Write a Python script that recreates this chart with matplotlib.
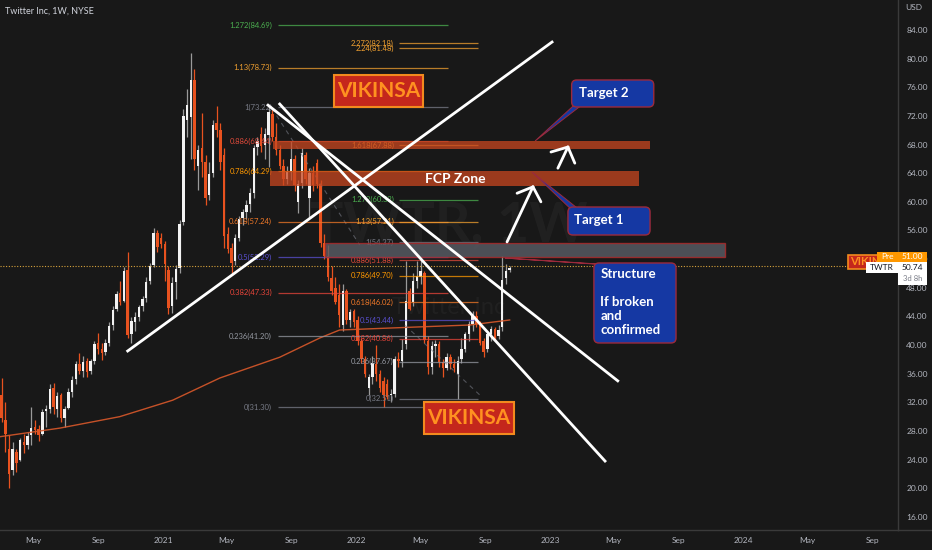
import numpy as np
import pandas as pd
import matplotlib
matplotlib.use("Agg")
import matplotlib.pyplot as plt
import matplotlib.dates as mdates
from matplotlib.patches import Rectangle, FancyBboxPatch, Polygon
from matplotlib.transforms import blended_transform_factory

plt.rcParams['font.family'] = ['Lato', 'DejaVu Sans']

# ---------------- weekly candles (TWTR, 1W) ----------------
first_week = "2020-03-02"
opens = [33.0, 29.5, 25.5, 22.5, 25.0, 24.0, 26.5, 26.0, 27.5, 28.6,
         28.3, 27.6, 30.8, 31.0, 34.0, 31.0, 33.0, 29.8, 31.2, 33.4,
         35.2, 37.3, 36.4, 37.8, 36.4, 37.8, 40.3, 39.4, 39.0, 40.3,
         42.8, 45.0, 47.2, 46.2, 50.5, 41.6, 43.2, 43.9, 45.4, 46.6,
         48.9, 51.2, 55.6, 55.0, 54.1, 50.5, 45.5, 48.8, 50.7, 57.2,
         71.5, 71.8, 77.0, 65.0, 67.5, 65.5, 61.0, 64.0, 71.0, 70.0,
         66.5, 55.5, 53.5, 51.8, 55.0, 57.7, 58.6, 59.7, 61.2, 67.6,
         69.5, 68.0, 69.4, 72.3, 69.0, 67.3, 65.0, 63.2, 64.3, 66.0,
         60.0, 62.6, 66.5, 60.5, 64.0, 65.4, 62.5, 54.3, 52.5, 49.4,
         48.0, 47.0, 42.8, 47.5, 43.5, 44.8, 43.5, 40.5, 38.0, 34.0,
         35.6, 37.4, 36.0, 35.0, 34.5, 33.0, 33.2, 38.0, 37.8, 40.2,
         47.5, 46.0, 48.9, 49.5, 50.0, 40.5, 37.0, 39.8, 40.2, 37.6,
         36.8, 38.3, 37.4, 36.0, 38.0, 39.5, 41.6, 43.0, 44.0, 43.0,
         40.5, 39.5, 41.6, 42.2, 41.3, 42.5, 49.3, 50.5]
highs = [35.4, 32.0, 27.5, 26.5, 25.5, 27.0, 27.6, 27.8, 31.4, 29.5,
         28.9, 31.1, 31.6, 34.6, 34.7, 33.5, 33.3, 31.5, 34.0, 35.7,
         37.8, 38.9, 38.5, 38.2, 38.0, 40.5, 41.7, 40.3, 40.9, 43.2,
         45.5, 47.5, 48.9, 50.9, 53.0, 43.9, 44.6, 45.6, 46.9, 49.5,
         51.5, 56.3, 56.0, 55.6, 54.6, 51.0, 49.5, 51.2, 57.5, 73.0,
         75.8, 80.8, 78.5, 68.0, 72.4, 66.5, 65.5, 71.5, 73.4, 71.0,
         67.5, 56.5, 54.2, 55.5, 58.0, 59.0, 60.2, 61.9, 68.0, 69.0,
         70.5, 70.3, 73.3, 73.0, 71.0, 68.0, 66.0, 65.0, 68.5, 66.5,
         63.0, 67.5, 67.0, 64.7, 65.0, 66.0, 63.0, 55.5, 54.0, 51.0,
         49.5, 48.5, 48.5, 47.8, 45.0, 45.0, 44.0, 41.0, 38.5, 36.0,
         38.5, 40.0, 36.5, 35.5, 35.3, 33.8, 38.5, 39.0, 40.9, 51.7,
         47.9, 50.0, 51.7, 52.3, 50.3, 41.2, 40.5, 40.7, 40.5, 38.0,
         38.9, 38.8, 38.0, 38.5, 41.0, 41.8, 43.4, 44.8, 44.8, 43.3,
         41.0, 42.0, 42.6, 42.5, 42.8, 52.4, 51.3, 51.0]
lows = [29.2, 25.0, 20.0, 21.8, 22.3, 23.8, 24.9, 25.5, 26.0, 27.6,
        26.6, 27.5, 28.5, 30.5, 30.4, 30.0, 29.2, 28.6, 31.0, 32.8,
        34.5, 36.0, 35.5, 35.6, 36.0, 37.3, 38.8, 37.9, 38.6, 39.9,
        42.1, 44.8, 45.6, 46.0, 41.0, 40.3, 42.0, 43.3, 44.8, 46.0,
        48.5, 50.9, 53.0, 53.6, 49.0, 44.4, 44.5, 46.5, 50.0, 56.7,
        69.0, 66.0, 64.5, 61.6, 63.5, 59.5, 60.3, 63.5, 69.0, 64.5,
        53.5, 52.8, 50.0, 51.2, 54.5, 56.8, 57.6, 58.6, 60.5, 66.5,
        67.0, 66.0, 64.8, 68.5, 66.5, 64.6, 62.4, 62.5, 63.0, 61.5,
        58.4, 62.0, 62.5, 57.9, 61.5, 62.0, 53.7, 52.0, 49.0, 47.0,
        45.8, 42.5, 42.0, 43.0, 42.5, 42.5, 40.0, 37.5, 35.5, 33.0,
        34.5, 35.0, 33.5, 31.3, 32.5, 32.0, 32.8, 37.0, 37.0, 39.5,
        44.9, 45.5, 48.0, 48.5, 40.3, 36.0, 36.0, 38.4, 37.0, 35.5,
        36.5, 36.7, 36.2, 32.5, 37.5, 39.0, 40.5, 41.9, 42.5, 40.0,
        38.3, 39.0, 40.6, 40.5, 40.8, 42.0, 48.5, 50.2]
closes = [29.8, 27.6, 22.0, 25.5, 23.5, 26.7, 26.0, 27.3, 28.4, 28.2,
          27.5, 30.6, 31.0, 33.9, 31.3, 32.9, 29.8, 31.0, 33.4, 35.1,
          37.4, 36.4, 37.7, 36.3, 37.8, 40.2, 39.4, 38.9, 40.3, 42.6,
          44.9, 47.1, 46.0, 50.3, 41.4, 43.4, 43.9, 45.3, 46.5, 48.8,
          51.1, 55.7, 53.7, 54.1, 51.3, 45.2, 48.6, 50.6, 56.9, 72.0,
          73.5, 77.0, 66.0, 67.2, 65.5, 60.5, 63.9, 70.8, 70.0, 65.5,
          55.2, 53.4, 51.5, 55.0, 57.6, 58.6, 59.6, 61.2, 67.5, 68.5,
          67.8, 69.5, 72.5, 69.0, 67.3, 65.0, 63.2, 64.2, 66.0, 62.3,
          62.5, 66.8, 63.2, 64.0, 62.3, 62.5, 54.2, 52.5, 49.5, 47.5,
          46.0, 44.2, 47.5, 43.5, 44.6, 43.2, 40.5, 38.0, 36.0, 35.6,
          37.5, 36.0, 34.0, 33.0, 32.8, 33.2, 38.0, 37.8, 39.3, 46.2,
          45.1, 48.9, 49.7, 50.4, 40.7, 37.0, 39.8, 40.2, 37.6, 36.8,
          38.3, 37.4, 36.8, 37.8, 39.5, 41.6, 42.9, 44.0, 43.0, 40.3,
          39.0, 41.6, 42.2, 41.0, 42.1, 49.1, 50.4, 50.74]

# 200 week moving average
ma_dates = ["2020-02-28", "2020-06-20", "2020-10-11", "2021-01-19", "2021-04-18",
            "2021-08-09", "2021-10-24", "2021-11-30", "2022-04-17", "2022-08-03",
            "2022-10-17"]
ma_values = [27.2, 28.4, 30.0, 32.3, 35.4, 38.3, 41.0, 42.1, 42.5, 42.8, 43.5]

# fib tools
fib1_ratios = ["1.272", "1.13", "1", "0.886", "0.786", "0.618", "0.5", "0.382", "0.236", "0"]
fib1_prices = [84.69, 78.73, 73.22, 68.44, 64.29, 57.24, 52.29, 47.33, 41.20, 31.30]
fib1_colors = ["#4caf50", "#f0a030", "#787b86", "#e04a3a", "#ff9800", "#f07828",
               "#5a50d0", "#e8453a", "#9598a1", "#787b86"]
fib1_span = ("2021-08-05", "2022-06-22")

fib2_ratios = ["2.272", "2.24", "1.618", "1.272", "1.13", "1", "0.886", "0.786",
               "0.618", "0.5", "0.382", "0.236", "0"]
fib2_prices = [82.18, 81.48, 67.88, 60.32, 57.21, 54.37, 51.88, 49.70, 46.02,
               43.44, 40.86, 37.67, 32.51]
fib2_colors = ["#f0a030", "#f0a030", "#f0a030", "#4caf50", "#f0a030", "#787b86",
               "#e04a3a", "#ff9800", "#f07828", "#5a50d0", "#e8453a", "#9598a1", "#787b86"]
fib2_span = ("2022-03-23", "2022-08-18")

# axis ticks
ytick_values = list(range(16, 85, 4))
xtick_dates = ["2020-05-01", "2020-09-01", "2021-01-01", "2021-05-01", "2021-09-01",
               "2022-01-01", "2022-05-01", "2022-09-01", "2023-01-01", "2023-05-01",
               "2023-09-01", "2024-01-01", "2024-05-01", "2024-09-01"]
xtick_labels = ["May", "Sep", "2021", "May", "Sep", "2022", "May", "Sep", "2023",
                "May", "Sep", "2024", "May", "Sep"]

last_price = 50.74
pre_price = 51.00

BG = "#181818"
UP = "#f2f2f2"
UP_WICK = "#9a9a9a"
DOWN = "#e8521f"
GRID_LINE = "#3a3a3a"
TXT = "#b2b5be"


def d(s):
    return mdates.date2num(pd.Timestamp(s))


fig = plt.figure(figsize=(9.32, 5.5), dpi=100, facecolor=BG)
ax = fig.add_axes([0, 20 / 550, 898 / 932, 530 / 550])
ax.set_facecolor(BG)
ax.set_xlim(d("2020-02-28"), d("2024-10-19"))
ax.set_ylim(14.17, 88.19)

# watermark
ax.text(0.5, 0.575, "TWTR, 1W", transform=ax.transAxes, ha="center", va="center",
        fontsize=40, fontweight="bold", color="white", alpha=0.035, zorder=0)
ax.text(0.5, 0.42, "Twitter Inc", transform=ax.transAxes, ha="center", va="center",
        fontsize=17, color="white", alpha=0.035, zorder=0)

# candles
weeks = pd.date_range(first_week, periods=len(closes), freq="7D")
x = mdates.date2num(weeks)
o = np.array(opens)
c = np.array(closes)
up = c >= o
body_col = np.where(up, UP, DOWN)
wick_col = np.where(up, UP_WICK, DOWN)
ax.vlines(x, lows, highs, colors=wick_col, lw=0.9, zorder=2)
ax.bar(x, np.maximum(np.abs(c - o), 0.15), bottom=np.minimum(o, c), width=4.6,
       color=body_col, linewidth=0, zorder=3)

# moving average
ax.plot([d(s) for s in ma_dates], ma_values, color="#d9582a", lw=1, alpha=0.9, zorder=4)

# last price dotted line
ax.axhline(pre_price, color="#d6a23c", lw=0.8, ls=(0, (1, 1.5)), zorder=4)

# faint dashed fib trend lines
ax.plot([d("2021-07-25"), d("2022-01-07")], [73.1, 53.97], color="#787b86",
        lw=0.8, ls=(0, (4, 4)), alpha=0.6, zorder=4)
ax.plot([d("2022-04-02"), d("2022-08-22")], [42.8, 33.0], color="#787b86",
        lw=0.8, ls=(0, (4, 4)), alpha=0.6, zorder=4)

# fib levels
for ratios, prices, cols, span in [(fib1_ratios, fib1_prices, fib1_colors, fib1_span),
                                   (fib2_ratios, fib2_prices, fib2_colors, fib2_span)]:
    x0, x1 = d(span[0]), d(span[1])
    for r, p, col in zip(ratios, prices, cols):
        ax.hlines(p, x0, x1, colors=col, lw=0.9, alpha=0.75, zorder=5)
        ax.annotate(f"{r}({p:.2f})", xy=(x0, p), xytext=(-4, 0), textcoords="offset points",
                    ha="right", va="center", fontsize=5.5, color=col, zorder=6)

# zones
ax.add_patch(Rectangle((d("2021-07-27"), 67.35), d("2023-07-09") - d("2021-07-27"), 1.1,
                       facecolor="#c8461f", alpha=0.75, lw=0, zorder=6))
ax.add_patch(Rectangle((d("2021-07-21"), 62.2), d("2023-06-18") - d("2021-07-21"), 2.1,
                       facecolor="#c8461f", alpha=0.75, lw=0, zorder=6))
ax.text(d("2022-07-06"), 63.25, "FCP Zone", ha="center", va="center", fontsize=10,
        fontweight="bold", color="white", zorder=7)
ax.add_patch(Rectangle((d("2021-11-02"), 52.3), d("2023-11-27") - d("2021-11-02"), 1.95,
                       facecolor="#5a5d66", edgecolor="#b02a2a", alpha=0.8, lw=1, zorder=6))

# trend lines
ax.plot([d("2020-10-26"), d("2023-01-05")], [39.17, 82.32], color="white", lw=2, zorder=8)
ax.plot([d("2021-07-18"), d("2023-05-09")], [73.5, 35.0], color="white", lw=2, zorder=8)
ax.plot([d("2021-08-09"), d("2023-04-15")], [73.66, 23.8], color="white", lw=2, zorder=8)

# arrows
for tail, head, w1, w2 in [
        (("2022-10-12", 54.4), ("2022-11-30", 62.1), ("2022-10-31", 61.2), ("2022-12-15", 60.0)),
        (("2023-01-16", 64.7), ("2023-02-04", 67.66), ("2023-01-03", 66.96), ("2023-02-17", 65.4))]:
    for a, b in [(tail, head), (w1, head), (w2, head)]:
        ax.plot([d(a[0]), d(b[0])], [a[1], b[1]], color="white", lw=2,
                solid_capstyle="round", zorder=8)

# callouts
BLUE = "#1538a3"
EDGE = "#9c2a3c"


def callout(x0, x1, y0, y1, text, tx, ty, base, tip):
    ax.add_patch(Polygon([(d(base[0]), base[2]), (d(base[1]), base[2]), (d(tip[0]), tip[1])],
                         closed=True, facecolor=BLUE, edgecolor=EDGE, lw=0.7, zorder=9))
    ax.add_patch(FancyBboxPatch((d(x0), y0), d(x1) - d(x0), y1 - y0,
                                boxstyle="round,pad=0,rounding_size=9.4",
                                mutation_aspect=0.0745, facecolor=BLUE,
                                edgecolor=EDGE, lw=1, zorder=10))
    ax.text(d(tx), ty, text, ha="left", va="top", fontsize=9.5, fontweight="bold",
            color="white", linespacing=1.2, zorder=11)


callout("2023-02-11", "2023-07-16", 73.25, 77.02, "Target 2", "2023-02-24", 76.0,
        ("2023-02-14", "2023-02-28", 73.4), ("2022-12-04", 68.5))
callout("2023-02-04", "2023-07-09", 55.37, 59.28, "Target 1", "2023-02-16", 58.3,
        ("2023-02-08", "2023-02-22", 59.1), ("2022-11-28", 64.17))
callout("2023-03-25", "2023-08-27", 40.29, 51.46, "Structure\n\nIf broken\nand\nconfirmed",
        "2023-04-06", 50.7, ("2023-03-28", "2023-04-06", 51.3), ("2022-10-08", 52.15))

# VIKINSA labels
for x0, x1, y0, y1, fs in [("2021-11-19", "2022-05-06", 73.25, 77.72, 15),
                           ("2022-05-08", "2022-10-25", 27.57, 32.04, 15)]:
    ax.add_patch(Rectangle((d(x0), y0), d(x1) - d(x0), y1 - y0, facecolor="#c4271c",
                           edgecolor="#f28a1e", lw=1.5, zorder=10))
    ax.text((d(x0) + d(x1)) / 2, (y0 + y1) / 2, "VIKINSA", ha="center", va="center",
            fontsize=fs, fontweight="bold", color="#ff9120", zorder=11)
ax.add_patch(Rectangle((d("2024-07-17"), 50.6), 200, 2.0, facecolor="#c4271c",
                       edgecolor="#f28a1e", lw=1.2, zorder=10))
ax.text(d("2024-07-21"), 51.6, "VIKINSA", ha="left", va="center", fontsize=8,
        fontweight="bold", color="#ff9120", zorder=11, clip_on=True)

# axes styling
for s in ["top", "left"]:
    ax.spines[s].set_visible(False)
for s in ["bottom", "right"]:
    ax.spines[s].set_color(GRID_LINE)
    ax.spines[s].set_linewidth(1)
ax.yaxis.tick_right()
ax.set_yticks(ytick_values)
ax.set_yticklabels([f"{v:.2f}" for v in ytick_values])
ax.set_xticks([d(s) for s in xtick_dates])
ax.set_xticklabels(xtick_labels)
ax.tick_params(axis="y", length=0, pad=6, labelsize=6, labelcolor=TXT)
ax.tick_params(axis="x", length=0, pad=5, labelsize=6, labelcolor=TXT)
fig.add_artist(plt.Line2D([898 / 932, 1], [20 / 550, 20 / 550], color=GRID_LINE, lw=1))

# price labels on the scale
tr = blended_transform_factory(ax.transAxes, ax.transData)
ax.add_patch(Rectangle((0.9766, 51.6), 0.0234, 1.4, transform=tr, facecolor="#ff9800",
                       lw=0, clip_on=False, zorder=20))
ax.text(0.9883, 52.3, "Pre", transform=tr, ha="center", va="center", fontsize=6,
        color="white", zorder=21, clip_on=False)
ax.add_patch(Rectangle((1.0, 51.6), 0.0323, 1.4, transform=tr, facecolor="#ff9800",
                       lw=0, clip_on=False, zorder=20))
ax.text(1.0161, 52.3, f"{pre_price:.2f}", transform=tr, ha="center", va="center",
        fontsize=6, color="white", zorder=21, clip_on=False)
ax.add_patch(Rectangle((0.9644, 50.0), 0.0356, 1.6, transform=tr, facecolor="white",
                       lw=0, clip_on=False, zorder=20))
ax.text(0.9822, 50.8, "TWTR", transform=tr, ha="center", va="center", fontsize=6,
        color="#131722", zorder=21, clip_on=False)
ax.add_patch(Rectangle((1.0, 48.4), 0.0323, 3.2, transform=tr, facecolor="white",
                       lw=0, clip_on=False, zorder=20))
ax.text(1.0161, 50.8, f"{last_price:.2f}", transform=tr, ha="center", va="center",
        fontsize=6, color="#131722", zorder=21, clip_on=False)
ax.text(1.0161, 49.3, "3d 8h", transform=tr, ha="center", va="center", fontsize=5.5,
        color="#787b86", zorder=21, clip_on=False)

fig.text(905 / 932, 1 - 8 / 550, "USD", ha="left", va="center", fontsize=6, color=TXT)
fig.text(5 / 932, 1 - 11 / 550, "Twitter Inc, 1W, NYSE", ha="left", va="center",
         fontsize=6.5, color="#d1d4dc")

fig.savefig("out.png", dpi=100, facecolor=BG)
